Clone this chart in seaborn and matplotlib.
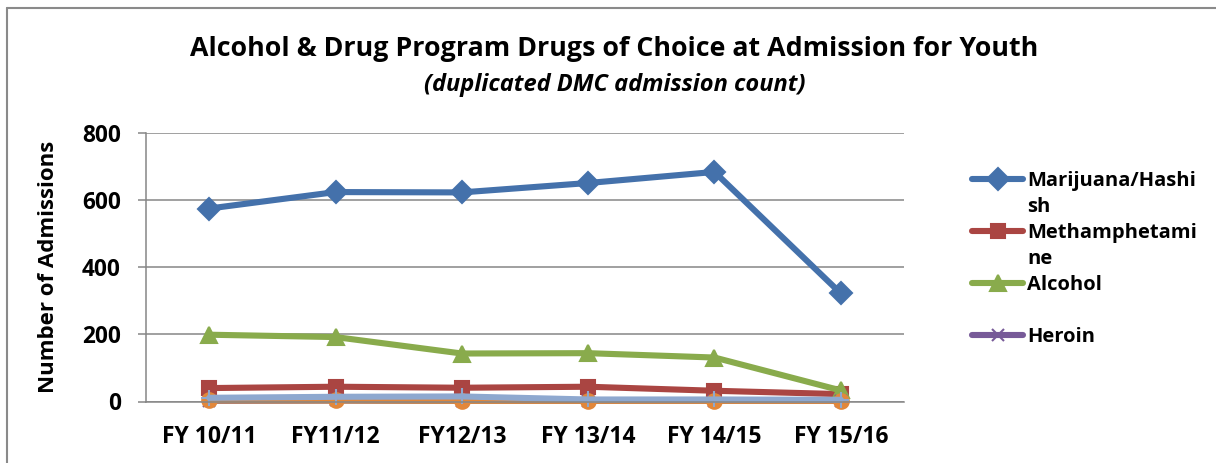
import matplotlib
matplotlib.use("Agg")
import matplotlib.pyplot as plt
import seaborn as sns
from matplotlib.lines import Line2D
from matplotlib.ticker import FixedLocator, MultipleLocator

# ---- data ----
categories = ["FY 10/11", "FY11/12", "FY12/13", "FY 13/14", "FY 14/15", "FY 15/16"]
marijuana = [575, 624, 623, 651, 684, 322]
methamphetamine = [40, 44, 41, 44, 32, 22]
alcohol = [199, 192, 143, 144, 131, 33]
heroin = [2, 3, 2, 2, 2, 2]
series5 = [4, 4, 3, 3, 3, 3]
series6 = [3, 3, 2, 2, 2, 2]
series7 = [11, 14, 15, 6, 6, 5]

legend_labels = ["Marijuana/Hashi", "Methamphetami", "Alcohol", "Heroin"]
legend_cont = ["sh", "ne", " ", None]

sns.set_theme(style="white")
plt.rcParams["font.family"] = ["Open Sans", "DejaVu Sans"]
plt.rcParams["font.weight"] = "bold"
plt.rcParams["text.color"] = "black"
plt.rcParams["xtick.color"] = "black"
plt.rcParams["ytick.color"] = "black"
plt.rcParams["axes.labelcolor"] = "black"

fig = plt.figure(figsize=(12.16, 4.63), dpi=100)
ax = fig.add_axes([146 / 1216, 1 - 401.5 / 463, (904 - 146) / 1216, (401.5 - 133) / 463])

styles = [
    (marijuana, "Marijuana/Hashish", "#4471AB", "D", 11.5),
    (methamphetamine, "Methamphetamine", "#AA4542", "s", 10),
    (alcohol, "Alcohol", "#89AB4C", "^", 11.5),
    (heroin, "Heroin", "#775A98", "x", 9),
    (series5, "_s5", "#4198B0", (6, 2, 0), 10),
    (series6, "_s6", "#E2873A", "o", 10.5),
    (series7, "_s7", "#8EA8CF", "+", 11),
]
for vals, name, col, mk, ms in styles:
    sns.lineplot(x=categories, y=vals, ax=ax, color=col, marker=mk, markersize=ms,
                 linewidth=4.4, markeredgecolor=col, markeredgewidth=1.5,
                 label=name, sort=False, clip_on=False)

ax.set_xlim(-0.5, 5.5)
ax.set_ylim(0, 800)
ax.yaxis.set_major_locator(MultipleLocator(200))
ax.grid(axis="y", color="#868686", linewidth=1.1)
ax.set_axisbelow(True)
for s in ["top", "right"]:
    ax.spines[s].set_visible(False)
for s in ["left", "bottom"]:
    ax.spines[s].set_color("#868686")
    ax.spines[s].set_linewidth(1.1)
ax.xaxis.set_minor_locator(FixedLocator([i - 0.5 for i in range(len(categories) + 1)]))
ax.tick_params(axis="x", which="major", length=0, pad=17, labelsize=16.5, labelcolor="black")
ax.tick_params(axis="x", which="minor", length=6, width=1.1, color="#868686", direction="out")
ax.tick_params(axis="y", which="major", length=6, width=1.1, color="#868686",
               direction="out", pad=12, labelsize=16.3, left=True, labelcolor="black")
for lab in ax.get_xticklabels() + ax.get_yticklabels():
    lab.set_fontweight("bold")
ax.set_xlabel("")
ax.set_ylabel("Number of Admissions", fontsize=16, fontweight="bold", labelpad=16.5, color="black")

# legend (first four series only, wrapped labels as in the original)
handles, _ = ax.get_legend_handles_labels()
leg_h, leg_l = [], []
for h, lab, cont in zip(handles[:4], legend_labels, legend_cont):
    leg_h.append(h)
    leg_l.append(lab)
    if cont is not None:
        leg_h.append(Line2D([], [], color="none"))
        leg_l.append(cont)
ax.legend_.remove() if ax.legend_ else None
fig.legend(leg_h, leg_l, loc="upper left", bbox_to_anchor=(962 / 1216, 1 - 161 / 463),
           frameon=False, handlelength=2.55, handletextpad=0.2,
           labelspacing=0.3, borderpad=0, prop={"weight": "bold", "size": 14.5})

fig.text(614 / 1216, 1 - 49 / 463, "Alcohol & Drug Program Drugs of Choice at Admission for Youth",
         ha="center", va="center", fontsize=19.3, fontweight="bold", color="black")
fig.text(615 / 1216, 1 - 85 / 463, "(duplicated DMC admission count)",
         ha="center", va="center", fontsize=17, fontweight="bold", style="italic", color="black")

# chart area border
fig.add_artist(Line2D([7 / 1216, 7 / 1216], [0, 1 - 8 / 463], color="#8A8A8A", linewidth=1.5))
fig.add_artist(Line2D([7 / 1216, 1], [1 - 8 / 463, 1 - 8 / 463], color="#8A8A8A", linewidth=1.5))

fig.savefig("out.png", dpi=100)
